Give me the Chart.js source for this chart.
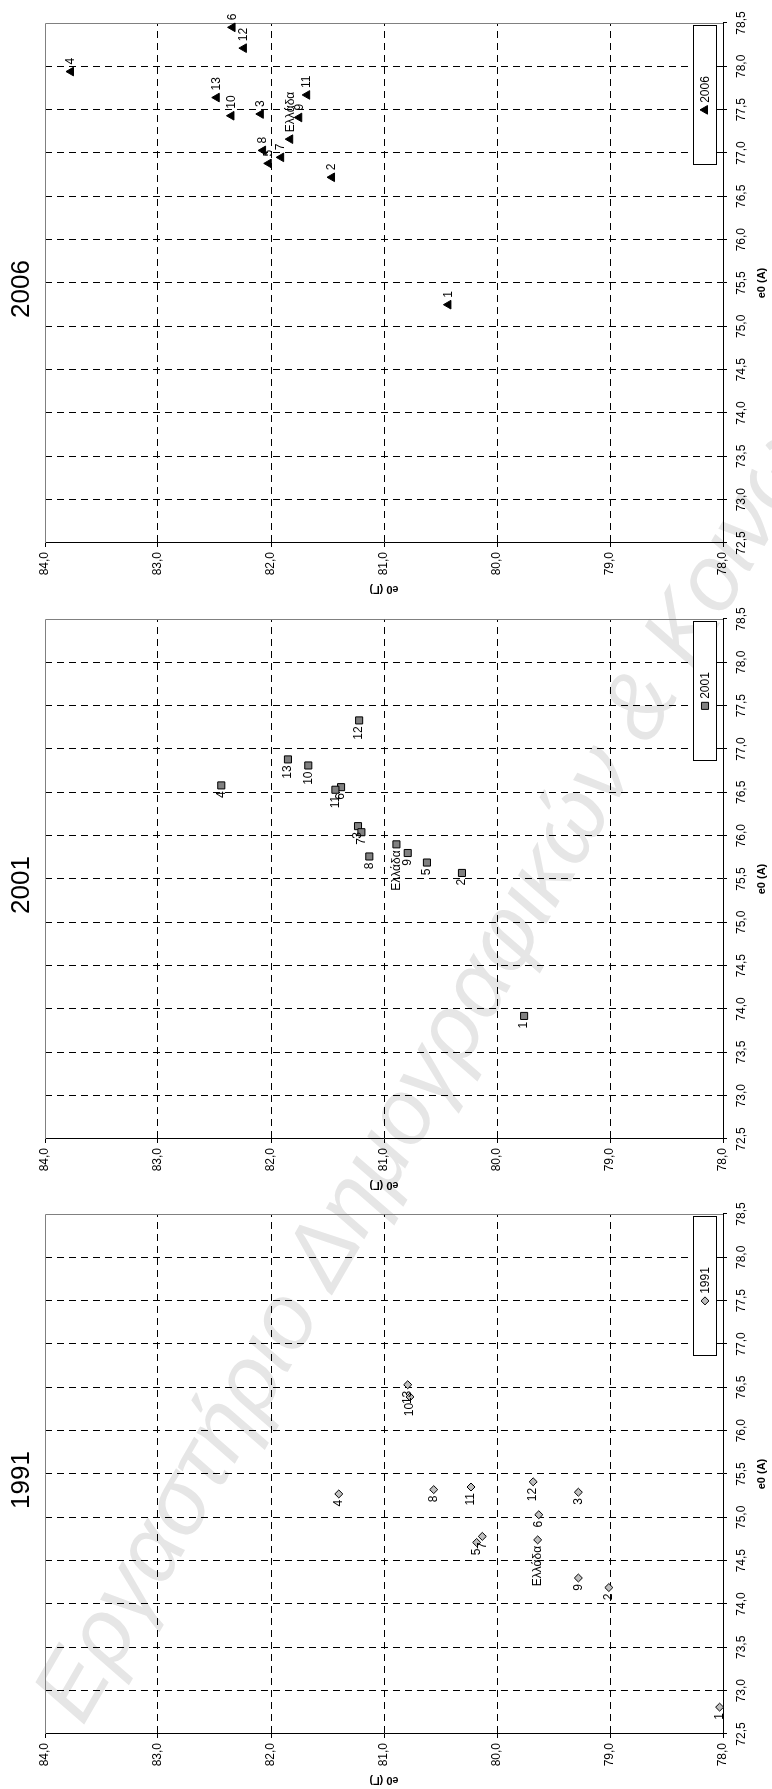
<!DOCTYPE html>
<html>
<head>
<meta charset="utf-8">
<script src="https://cdn.jsdelivr.net/npm/chart.js@4.4.1/dist/chart.umd.min.js"></script>
<style>
html,body{margin:0;padding:0;background:#fff;width:772px;height:1789px;overflow:hidden;position:relative}
#wm{position:absolute;left:55px;top:1661px;white-space:nowrap;font:italic 92px "Liberation Sans",Arial,sans-serif;line-height:100px;color:#e6e6e6;transform-origin:0 50%;transform:rotate(-60deg);z-index:0}
#page{position:absolute;left:0;top:0;width:1789px;height:772px;transform-origin:0 0;transform:translateY(1789px) rotate(-90deg);z-index:1}
.panel{position:absolute;top:0;width:596px;height:772px}
</style>
</head>
<body>
<div id="wm">Εργαστήριο Δημογραφικών &amp; Κοινωνικών Αναλύσεων</div>
<div id="page">
<div class="panel" style="left:0px"><canvas id="c1991" width="596" height="772"></canvas></div>
<div class="panel" style="left:595px"><canvas id="c2001" width="596" height="772"></canvas></div>
<div class="panel" style="left:1191px"><canvas id="c2006" width="596" height="772"></canvas></div>
</div>
<script>

// e0 (A) on the horizontal axis, e0 (Γ) on the vertical axis
const aTicks=[72.5,73,73.5,74,74.5,75,75.5,76,76.5,77,77.5,78,78.5]
const gTicks=[78,79,80,81,82,83,84]

const names=["1","2","3","4","5","6","7","8","9","10","11","12","13","Ελλάδα"]

const a1991=[72.81,74.19,75.29,75.27,74.71,75.03,74.78,75.32,74.30,76.39,75.35,75.41,76.53,74.74]
const g1991=[78.03,79.01,79.28,81.40,80.18,79.63,80.13,80.56,79.28,80.77,80.23,79.68,80.79,79.64]

const a2001=[73.92,75.57,76.11,76.58,75.69,76.56,76.04,75.76,75.80,76.81,76.53,77.33,76.88,75.90]
const g2001=[79.76,80.31,81.23,82.44,80.62,81.38,81.20,81.13,80.79,81.67,81.43,81.22,81.85,80.89]

const a2006=[75.25,76.72,77.45,77.94,76.88,78.45,76.95,77.03,77.41,77.43,77.67,78.21,77.64,77.16]
const g2006=[80.43,81.46,82.09,83.77,82.02,82.34,81.91,82.07,81.75,82.35,81.68,82.24,82.48,81.83]

const family='"Liberation Sans", Arial, sans-serif'

function fmt(v)
{
return Number(v).toFixed(1).replace(".",",")
}

const pointLabels=
{
id:"pointLabels",
afterDatasetsDraw(chart,args,opts)
{
const ctx=chart.ctx
const meta=chart.getDatasetMeta(0)
ctx.save()
ctx.font="12px "+family
ctx.fillStyle="#000"
ctx.textBaseline="middle"
ctx.textAlign=opts.side==="left"?"right":"left"
meta.data.forEach(function(pt,i)
{
let dx=opts.side==="left"?-6:7
ctx.fillText(names[i],pt.x+dx,pt.y)
})
ctx.restore()
}
}

const frame=
{
id:"frame",
beforeDatasetsDraw(chart)
{
const a=chart.chartArea
const ctx=chart.ctx
ctx.save()
ctx.strokeStyle="#808080"
ctx.lineWidth=1
ctx.beginPath()
ctx.moveTo(a.left,a.top+0.5)
ctx.lineTo(a.right-0.5,a.top+0.5)
ctx.lineTo(a.right-0.5,a.bottom)
ctx.stroke()
ctx.restore()
}
}

const boxLegend=
{
id:"boxLegend",
afterDraw(chart)
{
const a=chart.chartArea
const ctx=chart.ctx
const ds=chart.data.datasets[0]
const w=139
const h=23
const x0=Math.round(a.right-3-w)
const y0=Math.round(a.bottom-7-h)
ctx.save()
ctx.fillStyle="#fff"
ctx.fillRect(x0,y0,w,h)
ctx.strokeStyle="#000"
ctx.lineWidth=1
ctx.strokeRect(x0+0.5,y0+0.5,w,h)
ctx.font="12px "+family
const tw=ctx.measureText(ds.label).width
const ms=10
const total=ms+2+tw
const sx=x0+(w-total)/2
ctx.fillStyle=ds.backgroundColor
ctx.strokeStyle=ds.borderColor
Chart.helpers.drawPoint(ctx,{pointStyle:ds.pointStyle,radius:ds.pointRadius,borderWidth:1,rotation:0},sx+ms/2,y0+h/2+0.5)
ctx.fillStyle="#000"
ctx.textBaseline="middle"
ctx.textAlign="left"
ctx.fillText(ds.label,sx+ms+2,y0+h/2+1)
ctx.restore()
}
}

const panelTitle=
{
id:"panelTitle",
afterDraw(chart,args,opts)
{
const a=chart.chartArea
const ctx=chart.ctx
ctx.save()
ctx.font="26px "+family
ctx.fillStyle="#000"
ctx.textAlign="center"
ctx.textBaseline="middle"
ctx.fillText(opts.text,(a.left+a.right)/2-6,22)
ctx.restore()
}
}

function edge(c,lo,hi)
{
if(!c.tick) return "#000"
let v=c.tick.value
if(Math.abs(v-lo)<1e-6 || Math.abs(v-hi)<1e-6) return "rgba(0,0,0,0)"
return "#000"
}

function makeChart(id,year,alp,gam,style,side)
{

let pts=alp.map(function(a,i){ return {x:a,y:gam[i]} })

return new Chart(document.getElementById(id),
{
type:"scatter",
data:
{
datasets:[
{
label:year,
data:pts,
pointStyle:style.shape,
pointRadius:style.r,
pointHoverRadius:style.r,
backgroundColor:style.fill,
borderColor:"#000",
borderWidth:1,
showLine:false,
clip:false
}
]
},
options:
{
responsive:false,
animation:false,
devicePixelRatio:1,
events:[],
layout:{padding:{top:45,right:21,bottom:0,left:0}},
plugins:
{
legend:{display:false},
tooltip:{enabled:false},
title:{display:false},
panelTitle:{text:year},
pointLabels:{side:side}
},
scales:
{
x:
{
type:"linear",
min:72.5,
max:78.5,
afterBuildTicks:function(s){ s.ticks=aTicks.map(function(v){ return {value:v} }) },
afterFit:function(s){ s.height=49 },
ticks:{callback:function(v){ return fmt(v) },color:"#000",font:{family:family,size:12},padding:7,maxRotation:0,autoSkip:false},
grid:{color:function(c){ return edge(c,72.5,78.5) },tickColor:"#000",tickLength:4,lineWidth:1},
border:{display:true,color:"#000",width:1,dash:[7,5]},
title:{display:true,text:"e0 (A)",color:"#000",font:{family:family,size:11,weight:"bold"},padding:{top:0,bottom:3}}
},
y:
{
type:"linear",
min:78,
max:84,
afterBuildTicks:function(s){ s.ticks=gTicks.map(function(v){ return {value:v} }) },
afterFit:function(s){ s.width=55 },
ticks:{callback:function(v){ return fmt(v) },color:"#000",font:{family:family,size:12},padding:5,autoSkip:false},
grid:{color:function(c){ return edge(c,78,84) },tickColor:"#000",tickLength:4,lineWidth:1},
border:{display:true,color:"#000",width:1,dash:[7,5]},
title:{display:true,text:"e0 (Γ)",color:"#000",font:{family:family,size:11,weight:"bold"},padding:{top:2,bottom:0}}
}
}
},
plugins:[frame,pointLabels,boxLegend,panelTitle]
})

}

makeChart("c1991","1991",a1991,g1991,{shape:"rectRot",r:4,fill:"#c0c0c0"},"left")
makeChart("c2001","2001",a2001,g2001,{shape:"rect",r:5,fill:"#808080"},"left")
makeChart("c2006","2006",a2006,g2006,{shape:"triangle",r:5,fill:"#000"},"right")

</script>
</body>
</html>
